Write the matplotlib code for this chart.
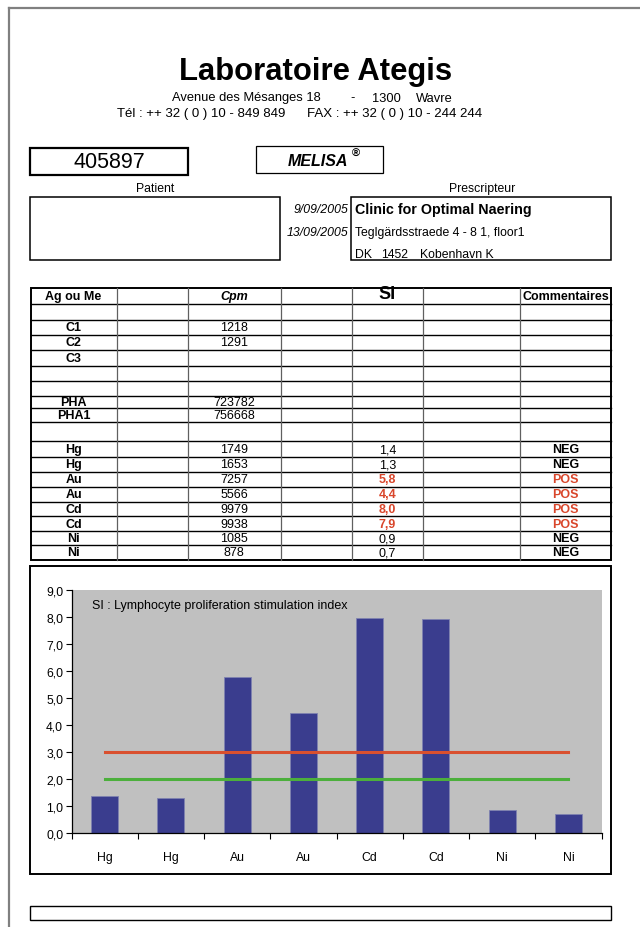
import matplotlib.pyplot as plt
import matplotlib.patches as mpatches
import numpy as np

plt.rcParams['font.family'] = ['Liberation Sans', 'DejaVu Sans']

# --- DATA ---
sample_id = "405897"
controls = ["C1", "C2", "C3"]
control_cpm = ["1218", "1291", ""]
mitogens = ["PHA", "PHA1"]
mitogen_cpm = ["723782", "756668"]

metals = ["Hg", "Hg", "Au", "Au", "Cd", "Cd", "Ni", "Ni"]
metal_cpm = [1749, 1653, 7257, 5566, 9979, 9938, 1085, 878]
si_values = [1.39, 1.32, 5.79, 4.44, 7.95, 7.92, 0.86, 0.70]
comments = ["NEG", "NEG", "POS", "POS", "POS", "POS", "NEG", "NEG"]
pos_limit = [3.0, 3.0, 3.0, 3.0, 3.0, 3.0, 3.0, 3.0]
neg_limit = [2.0, 2.0, 2.0, 2.0, 2.0, 2.0, 2.0, 2.0]
y_ticks = [0, 1, 2, 3, 4, 5, 6, 7, 8, 9]

RED = '#D9462B'
BAR = '#3A3D8E'

fig = plt.figure(figsize=(6.4, 9.28), dpi=100)
ax = fig.add_axes([0, 0, 1, 1])
ax.set_xlim(0, 640)
ax.set_ylim(928, 0)
ax.axis('off')


def box(x0, y0, x1, y1, lw=1.0, color='black'):
    ax.add_patch(mpatches.Rectangle((x0, y0), x1 - x0, y1 - y0, fill=False,
                                    edgecolor=color, linewidth=lw))


# page frame
ax.plot([8.5, 640], [9, 9], color='#808080', lw=1.6)
ax.plot([8.5, 8.5], [9, 928], color='#808080', lw=1.6)

# --- header ---
ax.text(316, 80, "Laboratoire Ategis", fontsize=22.3, fontweight='bold',
        ha='center', va='baseline')
ax.text(172, 101.5, "Avenue des Mésanges 18", fontsize=9.3, ha='left', va='baseline')
ax.text(353, 101.5, "-", fontsize=9.3, ha='center', va='baseline')
ax.text(372, 101.5, "1300", fontsize=9.3, ha='left', va='baseline')
ax.text(416, 101.5, "Wavre", fontsize=9.3, ha='left', va='baseline')
ax.text(117, 117, "Tél : ++ 32 ( 0 ) 10 - 849 849", fontsize=9.5, ha='left', va='baseline')
ax.text(307, 117, "FAX : ++ 32 ( 0 ) 10 - 244 244", fontsize=9.5, ha='left', va='baseline')

box(30, 149, 188, 176, lw=1.6)
ax.text(109, 162.5, sample_id, fontsize=15.5, ha='center', va='center')
box(256, 147, 383, 174, lw=0.9)
ax.text(318, 161, "MELISA", fontsize=11.5, fontweight='bold', style='italic',
        ha='center', va='center')
ax.text(356, 154, "®", fontsize=8, fontweight='bold', ha='center', va='center')

ax.text(155, 189, "Patient", fontsize=8.8, ha='center', va='center')
ax.text(482, 189, "Prescripteur", fontsize=8.8, ha='center', va='center')
box(30, 198, 280, 261, lw=1.1)
box(351, 198, 611, 261, lw=1.1)
ax.text(348, 210, "9/09/2005", fontsize=8.8, style='italic', ha='right', va='center')
ax.text(348, 233, "13/09/2005", fontsize=8.8, style='italic', ha='right', va='center')
ax.text(355, 210, "Clinic for Optimal Naering", fontsize=10.3, fontweight='bold',
        ha='left', va='center')
ax.text(355, 233, "Teglgärdsstraede 4 - 8 1, floor1", fontsize=8.8, ha='left', va='center')
ax.text(355, 254.5, "DK", fontsize=8.8, ha='left', va='center')
ax.text(381, 254.5, "1452", fontsize=8.8, ha='left', va='center')
ax.text(420, 254.5, "Kobenhavn K", fontsize=8.8, ha='left', va='center')

# --- table ---
col_x = [30.5, 116.7, 187.7, 281, 352.3, 422.7, 520, 611]
row_y = [289, 305, 320.7, 336, 350.7, 367.3, 382.3, 397.3, 409.3, 423.3,
         442.3, 458.3, 472.7, 487.7, 502.7, 517.3, 532.3, 546, 561]

for y in row_y[1:-1]:
    ax.plot([col_x[0], col_x[-1]], [y, y], color='black', lw=1.0)
for x in col_x[1:-1]:
    ax.plot([x, x], [row_y[0], row_y[-1]], color='#606060', lw=0.9)
box(col_x[0], row_y[0], col_x[-1], row_y[-1], lw=1.4)


def cx(c):
    return (col_x[c] + col_x[c + 1]) / 2


def cy(r):
    return (row_y[r] + row_y[r + 1]) / 2


fs = 9
ax.text(cx(0), cy(0), "Ag ou Me", fontsize=fs, fontweight='bold', ha='center', va='center')
ax.text(cx(2), cy(0), "Cpm", fontsize=fs, fontweight='bold', style='italic',
        ha='center', va='center')
ax.text(cx(4), cy(0) - 2, "SI", fontsize=13, fontweight='bold', ha='center', va='center')
ax.text(cx(6), cy(0), "Commentaires", fontsize=fs, fontweight='bold', ha='center', va='center')

for i, (lab, val) in enumerate(zip(controls, control_cpm)):
    ax.text(cx(0), cy(2 + i), lab, fontsize=fs, fontweight='bold', ha='center', va='center')
    ax.text(cx(2), cy(2 + i), val, fontsize=fs, ha='center', va='center')
for i, (lab, val) in enumerate(zip(mitogens, mitogen_cpm)):
    ax.text(cx(0), cy(7 + i), lab, fontsize=fs, fontweight='bold', ha='center', va='center')
    ax.text(cx(2), cy(7 + i), val, fontsize=fs, ha='center', va='center')

for i in range(len(metals)):
    r = 10 + i
    pos = comments[i] == "POS"
    col = RED if pos else 'black'
    ax.text(cx(0), cy(r), metals[i], fontsize=fs, fontweight='bold', ha='center', va='center')
    ax.text(cx(2), cy(r), str(metal_cpm[i]), fontsize=fs, ha='center', va='center')
    ax.text(cx(4), cy(r), f"{si_values[i]:.1f}".replace('.', ','), fontsize=fs,
            fontweight='bold' if pos else 'normal', color=col, ha='center', va='center')
    ax.text(cx(6), cy(r), comments[i], fontsize=fs, fontweight='bold', color=col,
            ha='center', va='center')

# --- chart frame ---
box(30, 567, 611, 875, lw=1.4)
box(30, 907, 611, 921, lw=1.0)

# --- chart ---
px_left, px_right, px_top, px_bottom = 71.5, 601.5, 591, 834.3
cax = fig.add_axes([px_left / 640, 1 - px_bottom / 928,
                    (px_right - px_left) / 640, (px_bottom - px_top) / 928])
cax.set_facecolor('#C0C0C0')
x = np.arange(len(metals))
cax.bar(x, si_values, width=0.41, color=BAR, edgecolor='#7F82B0', linewidth=0.6, zorder=2)
cax.plot(x, pos_limit, color='#D9502F', lw=2.2, zorder=3)
cax.plot(x, neg_limit, color='#4CAF3C', lw=2.2, zorder=3)
cax.set_xlim(-0.5, len(metals) - 0.5)
cax.set_ylim(0, 9)
cax.set_yticks(y_ticks)
cax.set_yticklabels([f"{v:.1f}".replace('.', ',') for v in y_ticks], fontsize=8.7)
cax.set_xticks(x)
cax.set_xticklabels(metals, fontsize=8.8)
cax.set_xticks(np.arange(len(metals) + 1) - 0.5, minor=True)
cax.tick_params(axis='x', which='major', length=0, pad=13)
cax.tick_params(axis='x', which='minor', length=4, width=0.8, direction='out')
cax.tick_params(axis='y', length=4, width=0.8, direction='out', pad=2)
for s in ['top', 'right']:
    cax.spines[s].set_visible(False)
for s in ['left', 'bottom']:
    cax.spines[s].set_linewidth(0.9)
cax.text(-0.19, 8.45, "SI : Lymphocyte proliferation stimulation index", fontsize=9,
         ha='left', va='center')

fig.savefig('out.png', dpi=100)
